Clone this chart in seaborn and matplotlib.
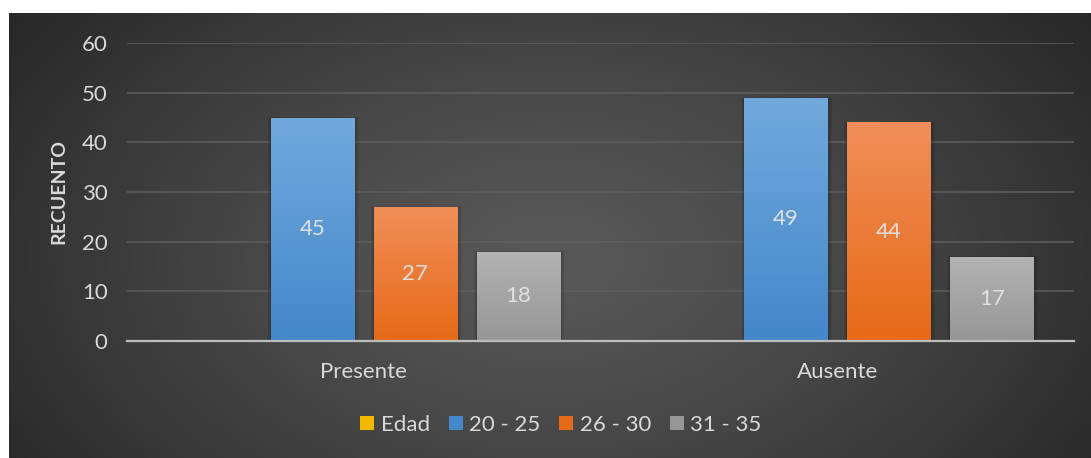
import numpy as np
import pandas as pd
import matplotlib
matplotlib.use("Agg")
import matplotlib.pyplot as plt
from matplotlib.patches import Patch, Rectangle
from matplotlib.colors import LinearSegmentedColormap
import seaborn as sns

# ---- data ----
categorias = ["Presente", "Ausente"]
grupos = ["Edad", "20 - 25", "26 - 30", "31 - 35"]
edad = [0, 0]
g_20_25 = [45, 49]
g_26_30 = [27, 44]
g_31_35 = [18, 17]

# gradient colours per series (top, bottom)
colores = {
    "Edad": ("#FFD030", "#F5B800"),
    "20 - 25": ("#72A9DD", "#4388CA"),
    "26 - 30": ("#F08E5A", "#E66A17"),
    "31 - 35": ("#B3B3B3", "#969696"),
}

df = pd.DataFrame({
    "categoria": np.repeat(categorias, len(grupos)),
    "grupo": grupos * len(categorias),
    "valor": [v for i in range(len(categorias))
              for v in (edad[i], g_20_25[i], g_26_30[i], g_31_35[i])],
})

sns.set_theme(style="dark")
plt.rcParams["font.family"] = ["Lato", "DejaVu Sans"]

FS = 16
W, H = 1091, 458
fig = plt.figure(figsize=(W / 100, H / 100), dpi=100)
fig.patch.set_facecolor("white")

# dark panel with a soft radial glow
bg = fig.add_axes([9 / W, 0, (W - 9) / W, (H - 13) / H])
bg.set_axis_off()
ny, nx = 300, 700
yy, xx = np.mgrid[0:ny, 0:nx]
cx, cy = nx * 0.50, ny * 0.55
r = np.sqrt(((xx - cx) / (nx * 0.62)) ** 2 + ((yy - cy) / (ny * 0.95)) ** 2)
r = np.clip(r, 0, 1)
lum = 0.345 - (0.345 - 0.150) * r ** 1.3
bg.imshow(np.dstack([lum, lum, lum]), extent=[0, 1, 0, 1], aspect="auto",
          interpolation="bicubic")
bg.set_xlim(0, 1)
bg.set_ylim(0, 1)

ax = fig.add_axes([127 / W, 1 - 341 / H, (1074 - 127) / W, (341 - 43) / H])
ax.patch.set_alpha(0)

sns.barplot(data=df, x="categoria", y="valor", hue="grupo", hue_order=grupos,
            palette={g: colores[g][1] for g in grupos}, width=0.87, gap=0.19,
            ax=ax, legend=False, zorder=3, linewidth=0)

ax.set_ylim(0, 60)
ax.set_xlim(-0.5, 1.5)
ax.set_yticks(range(0, 61, 10))
ax.grid(axis="y", color="#5E5E5E", linewidth=1.4, alpha=0.8, zorder=0)
ax.grid(axis="x", visible=False)
for s in ["top", "right", "left"]:
    ax.spines[s].set_visible(False)
ax.spines["bottom"].set_color("#BDBDBD")
ax.spines["bottom"].set_linewidth(1.6)
ax.spines["bottom"].set_zorder(5)

ax.tick_params(axis="both", length=0, colors="#D9D9D9", labelsize=FS)
ax.tick_params(axis="y", pad=14)
ax.tick_params(axis="x", pad=15)
ax.set_xlabel("")
ax.set_ylabel("RECUENTO", color="#D9D9D9", fontsize=14, fontweight="bold",
              labelpad=10)

# gradient fill + soft side shadow for every bar
for cont, g in zip(ax.containers, grupos):
    top, bot = colores[g]
    cmap = LinearSegmentedColormap.from_list(g, [bot, top])
    grad = np.linspace(0, 1, 256).reshape(-1, 1)
    for bar in cont:
        h = bar.get_height()
        if h <= 0:
            continue
        x0, w = bar.get_x(), bar.get_width()
        for k in range(1, 7):
            ax.add_patch(Rectangle((x0 - 0.0012 * k + 0.001, 0), w + 0.0028 * k,
                                   h + 0.08 * k - 0.3, facecolor="black",
                                   alpha=0.035, linewidth=0, zorder=2))
        im = ax.imshow(grad, cmap=cmap, origin="lower", aspect="auto",
                       extent=[x0, x0 + w, 0, h], zorder=3.5)
        im.set_clip_path(bar)
        bar.set_facecolor("none")
    if g != "Edad":
        ax.bar_label(cont, label_type="center", color="#E0E0E0", fontsize=FS,
                     zorder=6)

ax.set_ylim(0, 60)
ax.set_xlim(-0.5, 1.5)

handles = [Patch(facecolor=colores[g][1], edgecolor="none", label=g) for g in grupos]
leg = fig.legend(handles=handles, loc="center", bbox_to_anchor=(561 / W, 1 - 425 / H),
                 ncol=4, frameon=False, fontsize=FS, handlelength=0.62,
                 handleheight=0.62, handletextpad=0.3, columnspacing=0.85)
for t in leg.get_texts():
    t.set_color("#D9D9D9")

fig.savefig("out.png", dpi=100, facecolor=fig.get_facecolor())
